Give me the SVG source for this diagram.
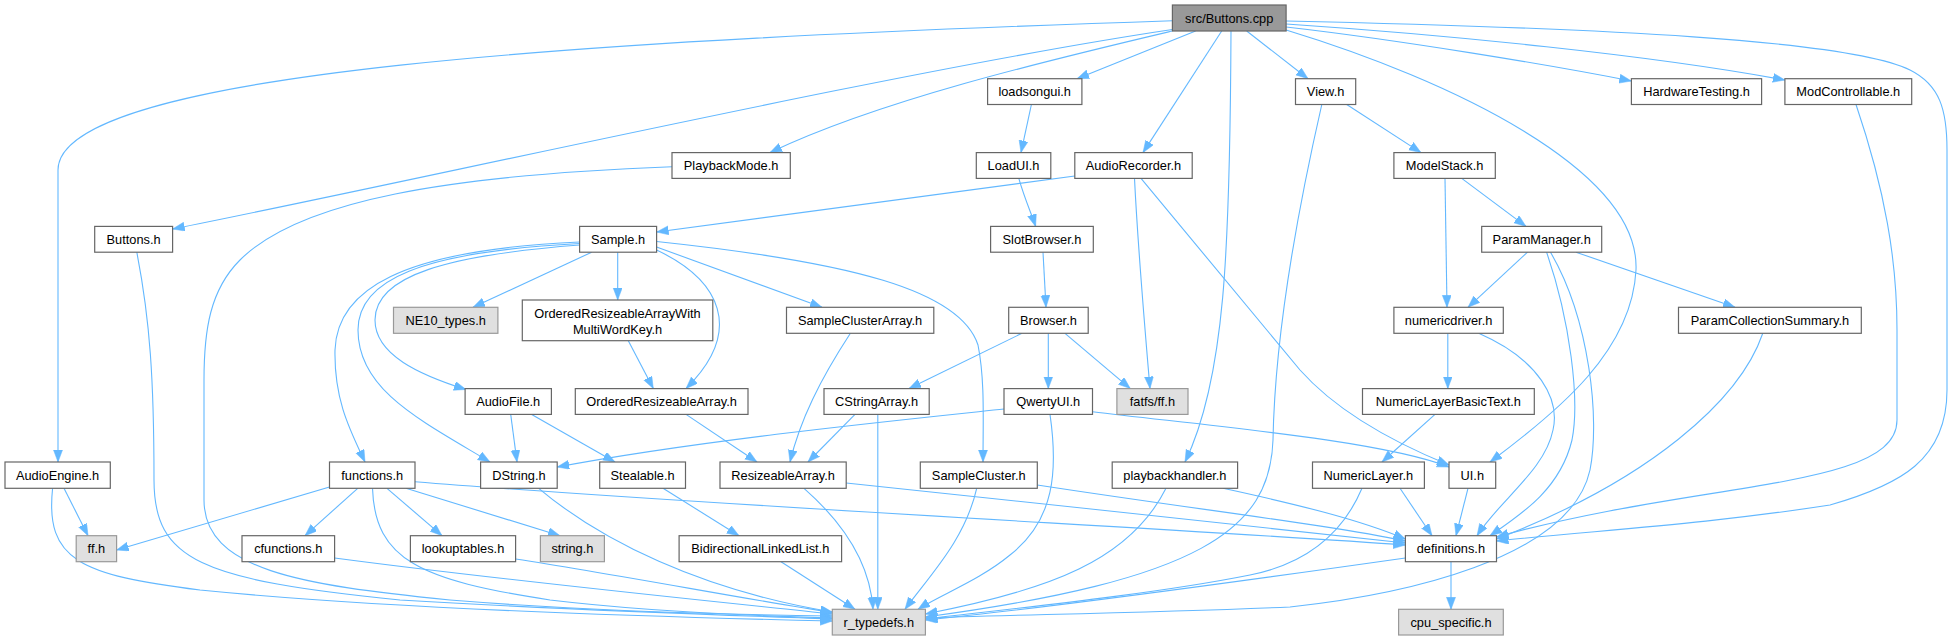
<svg xmlns="http://www.w3.org/2000/svg" width="1955" height="641" viewBox="0 0 1955 641">
<style>
.n rect{fill:#ffffff;stroke:#666666;stroke-width:1.2}
.g rect{fill:#e0e0e0;stroke:#999999;stroke-width:1.2}
.r rect{fill:#999999;stroke:#666666;stroke-width:1.2}
text{font-family:"Liberation Sans",Arial,Helvetica,sans-serif;font-size:12.8px;fill:#000000;text-anchor:middle}
#edges path{fill:none;stroke:#63b8ff;stroke-width:1.1;marker-end:url(#arr)}
</style>
<defs>
<marker id="arr" markerUnits="userSpaceOnUse" markerWidth="13" markerHeight="10" refX="12" refY="4.5" orient="auto">
<path d="M0,0 L12,4.5 L0,9 z" fill="#63b8ff" stroke="#63b8ff" stroke-width="0.5"/>
</marker>
</defs>
<rect width="1955" height="641" fill="#ffffff"/>
<g id="edges">
<!-- from src/Buttons.cpp -->
<path d="M1172.4,20.7 C600,40 58,70 58,170 L58,462"/>
<path d="M1172.4,29.5 C900,70 420,180 172.6,229"/>
<path d="M1172.4,31 C1050,60 880,100 770,152.6"/>
<path d="M1195.6,31 L1077,78.7"/>
<path d="M1221.7,31 L1143,152.6"/>
<path d="M1231,31 C1230,250 1225,380 1185,462"/>
<path d="M1246.7,31 L1308,78.7"/>
<path d="M1286.1,30 C1450,80 1640,170 1636,270 C1632,350 1560,410 1490,462"/>
<path d="M1286.1,27 C1400,40 1550,65 1631.4,81"/>
<path d="M1286.1,24 C1450,35 1650,55 1784.9,80"/>
<path d="M1286.1,21 C1600,28 1850,40 1910,70 C1940,85 1947,110 1947,150 L1947,390 C1947,460 1900,485 1830,505 C1700,525 1600,530 1496.5,541"/>
<!-- chain -->
<path d="M1031.4,104.5 L1021,152.6"/>
<path d="M1018.8,178.4 C1025,200 1032,215 1035.6,226.4"/>
<path d="M1043,252.2 L1046,307.3"/>
<path d="M1022,333.3 L909,388.6"/>
<path d="M1048.3,333.3 L1048.3,388.6"/>
<path d="M1065,333.3 L1130.3,388.6"/>
<!-- AudioRecorder -->
<path d="M1074.8,176 L656.6,232"/>
<path d="M1134.5,178.4 C1138,250 1145,330 1150,388.6"/>
<path d="M1141,178.4 L1300,370 C1340,415 1400,445 1449,465"/>
<!-- PlaybackMode -->
<path d="M672,166.7 C450,175 300,200 240,260 C210,290 204,330 204,380 L204,500 C204,570 300,585 450,600 C600,612 760,615 832.3,616"/>
<!-- View -->
<path d="M1346.7,104.5 L1421,152.6"/>
<path d="M1321.8,104.5 C1300,200 1275,330 1273,440 C1270,530 1200,580 925.4,617"/>
<!-- ModelStack -->
<path d="M1461.7,178.4 L1526,226.4"/>
<path d="M1445,178.4 L1447,307.3"/>
<!-- ParamManager -->
<path d="M1527.5,252.2 L1468,307.3"/>
<path d="M1576,252.2 L1735,307.3"/>
<path d="M1546.6,252.2 C1570,320 1580,400 1572,440 C1560,490 1520,515 1490,535.7"/>
<path d="M1550.5,252.2 C1590,320 1600,420 1590,470 C1570,560 1400,595 1290,607 C1150,613 1000,615 925.4,618"/>
<!-- ModControllable, ParamCollectionSummary -->
<path d="M1856,104.5 C1885,190 1897,260 1897,330 L1897,420 C1897,490 1700,480 1496.5,537"/>
<path d="M1762.8,333.3 C1740,400 1650,480 1496.5,539"/>
<!-- numericdriver -->
<path d="M1447.8,333.3 L1447.8,388.6"/>
<path d="M1478.7,333.3 C1540,360 1560,400 1553,430 C1545,470 1500,500 1477,535.7"/>
<path d="M1435,414.4 L1382,462"/>
<!-- NumericLayer, UI -->
<path d="M1400,488.3 L1432,535.7"/>
<path d="M1362,488.3 C1340,540 1300,565 1250,575 C1150,595 1000,610 925.4,619"/>
<path d="M1468,488.3 L1456,535.7"/>
<!-- definitions -->
<path d="M1451,561.7 L1451,609.3"/>
<path d="M1405.4,558 C1250,580 1050,608 925.4,620"/>
<!-- Sample -->
<path d="M617.7,252.2 L617.7,300"/>
<path d="M591.7,252.2 L473,307.3"/>
<path d="M579.6,245 C450,255 375,275 375,320 C375,355 420,375 466,389.5"/>
<path d="M579.6,243.5 C420,252 358,280 358,330 C358,390 420,420 490,462"/>
<path d="M579.6,242 C400,250 337,290 335,350 C334,400 350,430 365,462"/>
<path d="M656.6,247 L822,307.3"/>
<path d="M656.6,250 C720,280 745,330 686,388.6"/>
<path d="M656.6,241.5 C850,262 960,290 978,345 C985,380 983,420 983,462"/>
<!-- ORAWMWK, ORA, SCA, CSA -->
<path d="M628.3,340.7 L653.3,388.6"/>
<path d="M686,414.4 L757,462"/>
<path d="M850.4,333.3 C820,380 800,420 790,462"/>
<path d="M855,414.4 L808,462"/>
<path d="M877.8,414.4 L877.8,609.3"/>
<!-- QwertyUI -->
<path d="M1004,409 C900,420 700,440 557.2,467"/>
<path d="M1092.5,411.7 C1200,425 1380,440 1449,467"/>
<path d="M1050,414.4 C1058,470 1055,520 1010,555 C980,580 940,595 918,609.3"/>
<!-- AudioFile, Stealable, Bidirectional -->
<path d="M510.7,414.4 L517,462"/>
<path d="M531.7,414.4 L615,462"/>
<path d="M663,488.3 L739,535.7"/>
<path d="M781,561.7 L855,609.3"/>
<!-- ResizeableArray, SampleCluster, playbackhandler -->
<path d="M804,488.3 C840,520 870,560 873,609.3"/>
<path d="M846.2,483 C1000,500 1300,530 1405.4,543"/>
<path d="M976.7,488.3 C965,540 930,575 905,609.3"/>
<path d="M1037.3,485 C1200,510 1330,525 1405.4,541"/>
<path d="M1166,488.3 C1130,560 1050,590 925.4,614"/>
<path d="M1223,488.3 C1300,505 1360,520 1405.4,539"/>
<!-- functions -->
<path d="M329.5,487 L116.6,550"/>
<path d="M357.7,488.3 L305,535.7"/>
<path d="M387,488.3 L442,535.7"/>
<path d="M406,488.3 L560,535.7"/>
<path d="M372.5,488.3 C375,560 420,580 550,600 C650,612 760,616 832.3,618"/>
<path d="M415,481.7 C700,505 1200,530 1405.4,545"/>
<!-- AudioEngine, Buttons.h, DString, cfunctions, lookuptables -->
<path d="M64,488.3 L88,535.7"/>
<path d="M52.6,488.3 C45,560 80,575 200,590 C400,610 700,618 832.3,621"/>
<path d="M136.8,252.2 C150,320 154,380 154,480 C154,560 200,580 400,600 C600,612 760,616 832.3,619"/>
<path d="M538.7,488.3 C600,540 700,590 832.3,612"/>
<path d="M334.6,558 C500,580 700,600 832.3,614"/>
<path d="M515.6,559 C620,575 750,600 832.3,612.5"/>
</g>
<g id="n_root" class="r"><rect x="1172.4" y="5" width="113.7" height="26"/><text x="1229.2" y="22.5">src/Buttons.cpp</text></g>
<g id="n_loadsongui" class="n"><rect x="987.6" y="78.7" width="94.3" height="25.8"/><text x="1034.7" y="96">loadsongui.h</text></g>
<g id="n_view" class="n"><rect x="1295.5" y="78.7" width="60.2" height="25.8"/><text x="1325.6" y="96">View.h</text></g>
<g id="n_hwtest" class="n"><rect x="1631.4" y="78.7" width="130.2" height="25.8"/><text x="1696.5" y="96">HardwareTesting.h</text></g>
<g id="n_modctrl" class="n"><rect x="1784.9" y="78.7" width="126.8" height="25.8"/><text x="1848.3" y="96">ModControllable.h</text></g>
<g id="n_playbackmode" class="n"><rect x="672" y="152.6" width="118.3" height="25.8"/><text x="731.1" y="170">PlaybackMode.h</text></g>
<g id="n_loadui" class="n"><rect x="976.3" y="152.6" width="74.5" height="25.8"/><text x="1013.5" y="170">LoadUI.h</text></g>
<g id="n_audiorecorder" class="n"><rect x="1074.8" y="152.6" width="117.4" height="25.8"/><text x="1133.5" y="170">AudioRecorder.h</text></g>
<g id="n_modelstack" class="n"><rect x="1393.9" y="152.6" width="101.4" height="25.8"/><text x="1444.6" y="170">ModelStack.h</text></g>
<g id="n_buttonsh" class="n"><rect x="94.7" y="226.4" width="77.9" height="25.8"/><text x="133.6" y="243.8">Buttons.h</text></g>
<g id="n_sample" class="n"><rect x="579.6" y="226.4" width="77" height="25.8"/><text x="618.1" y="243.8">Sample.h</text></g>
<g id="n_slotbrowser" class="n"><rect x="990.6" y="226.4" width="102.7" height="25.8"/><text x="1042" y="243.8">SlotBrowser.h</text></g>
<g id="n_parammanager" class="n"><rect x="1481.7" y="226.4" width="120" height="25.8"/><text x="1541.7" y="243.8">ParamManager.h</text></g>
<g id="n_ne10" class="g"><rect x="393.5" y="307.3" width="104.4" height="26"/><text x="445.7" y="324.8">NE10_types.h</text></g>
<g id="n_orawmwk" class="n"><rect x="522.3" y="300" width="190.5" height="40.7"/><text x="617.5" y="318.3">OrderedResizeableArrayWith</text><text x="617.5" y="333.5">MultiWordKey.h</text></g>
<g id="n_samplclusterarray" class="n"><rect x="786.5" y="307.3" width="147.3" height="26"/><text x="860.1" y="324.8">SampleClusterArray.h</text></g>
<g id="n_browser" class="n"><rect x="1008.7" y="307.3" width="79.5" height="26"/><text x="1048.4" y="324.8">Browser.h</text></g>
<g id="n_numericdriver" class="n"><rect x="1393.9" y="307.3" width="109.4" height="26"/><text x="1448.6" y="324.8">numericdriver.h</text></g>
<g id="n_paramcoll" class="n"><rect x="1678.5" y="307.3" width="182.8" height="26"/><text x="1769.9" y="324.8">ParamCollectionSummary.h</text></g>
<g id="n_audiofile" class="n"><rect x="465.1" y="388.6" width="86.3" height="25.8"/><text x="508.2" y="406">AudioFile.h</text></g>
<g id="n_ora" class="n"><rect x="575.3" y="388.6" width="172.7" height="25.8"/><text x="661.6" y="406">OrderedResizeableArray.h</text></g>
<g id="n_cstringarray" class="n"><rect x="824" y="388.6" width="105.2" height="25.8"/><text x="876.6" y="406">CStringArray.h</text></g>
<g id="n_qwertyui" class="n"><rect x="1004" y="388.6" width="88.5" height="25.8"/><text x="1048.2" y="406">QwertyUI.h</text></g>
<g id="n_fatfs" class="g"><rect x="1116.9" y="388.6" width="71.1" height="25.8"/><text x="1152.4" y="406">fatfs/ff.h</text></g>
<g id="n_nlbt" class="n"><rect x="1362.5" y="388.6" width="171.8" height="25.8"/><text x="1448.4" y="406">NumericLayerBasicText.h</text></g>
<g id="n_audioengine" class="n"><rect x="5" y="462" width="105.3" height="26.3"/><text x="57.6" y="479.6">AudioEngine.h</text></g>
<g id="n_functions" class="n"><rect x="329.5" y="462" width="85.5" height="26.3"/><text x="372.2" y="479.6">functions.h</text></g>
<g id="n_dstring" class="n"><rect x="480.6" y="462" width="76.6" height="26.3"/><text x="518.9" y="479.6">DString.h</text></g>
<g id="n_stealable" class="n"><rect x="599.7" y="462" width="85.8" height="26.3"/><text x="642.6" y="479.6">Stealable.h</text></g>
<g id="n_resizeable" class="n"><rect x="720" y="462" width="126.2" height="26.3"/><text x="783.1" y="479.6">ResizeableArray.h</text></g>
<g id="n_samplecluster" class="n"><rect x="920.3" y="462" width="117" height="26.3"/><text x="978.8" y="479.6">SampleCluster.h</text></g>
<g id="n_playbackhandler" class="n"><rect x="1112.2" y="462" width="125.4" height="26.3"/><text x="1174.9" y="479.6">playbackhandler.h</text></g>
<g id="n_numericlayer" class="n"><rect x="1312.5" y="462" width="111.9" height="26.3"/><text x="1368.4" y="479.6">NumericLayer.h</text></g>
<g id="n_ui" class="n"><rect x="1449" y="462" width="46.7" height="26.3"/><text x="1472.3" y="479.6">UI.h</text></g>
<g id="n_ff" class="g"><rect x="76.2" y="535.7" width="40.4" height="26"/><text x="96.4" y="553.2">ff.h</text></g>
<g id="n_cfunctions" class="n"><rect x="242" y="535.7" width="92.6" height="26"/><text x="288.3" y="553.2">cfunctions.h</text></g>
<g id="n_lookuptables" class="n"><rect x="410.4" y="535.7" width="105.2" height="26"/><text x="463" y="553.2">lookuptables.h</text></g>
<g id="n_string" class="g"><rect x="540.4" y="535.7" width="64" height="26"/><text x="572.4" y="553.2">string.h</text></g>
<g id="n_bidir" class="n"><rect x="679.1" y="535.7" width="162.5" height="26"/><text x="760.3" y="553.2">BidirectionalLinkedList.h</text></g>
<g id="n_definitions" class="n"><rect x="1405.4" y="535.7" width="91.1" height="26"/><text x="1450.9" y="553.2">definitions.h</text></g>
<g id="n_rtypedefs" class="g"><rect x="832.3" y="609.3" width="93.1" height="25.7"/><text x="878.8" y="626.7">r_typedefs.h</text></g>
<g id="n_cpuspecific" class="g"><rect x="1398.6" y="609.3" width="104.7" height="25.7"/><text x="1451" y="626.7">cpu_specific.h</text></g>
</svg>
